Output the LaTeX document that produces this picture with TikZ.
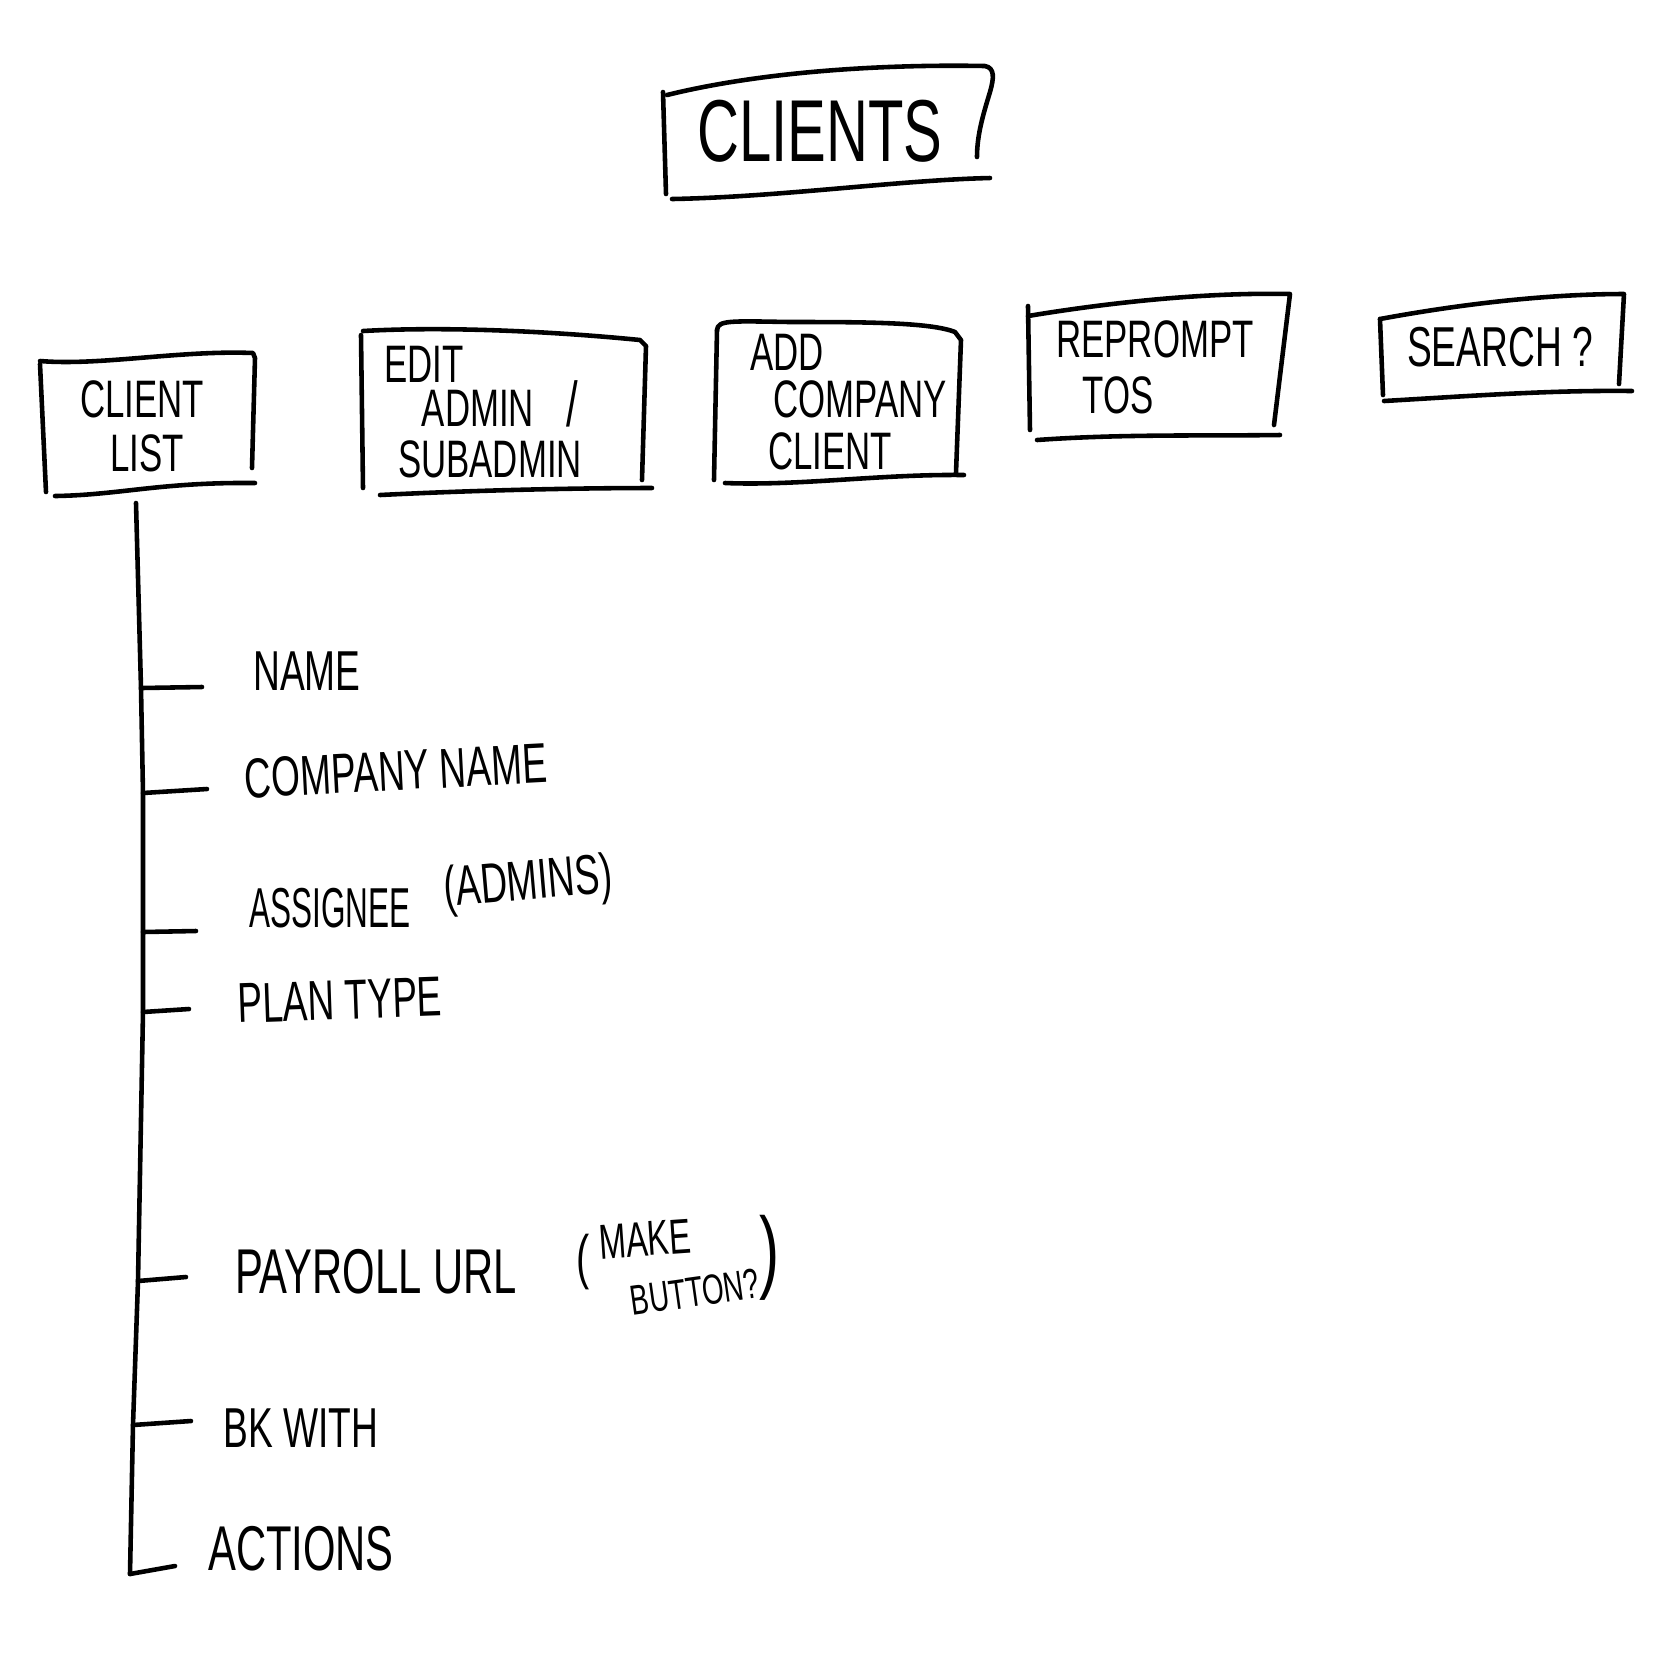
\documentclass[tikz,border=0pt]{standalone}
\usepackage{fontspec}
\setmainfont{Liberation Sans}
\usepackage{graphicx}
\newcommand{\hw}[1]{\scalebox{0.66}[1]{#1}}
\newcommand{\hwn}[1]{\scalebox{0.56}[1]{#1}}
\tikzset{
  pen/.style={line width=1.3pt, line cap=round, line join=round},
  lab/.style={inner sep=0pt, font=\fontsize{16}{18}\selectfont},
  boxlab/.style={inner sep=0pt, font=\fontsize{15}{17}\selectfont},
  biglab/.style={inner sep=0pt, font=\fontsize{25}{28}\selectfont},
  midlab/.style={inner sep=0pt, font=\fontsize{18}{20}\selectfont},
  smalllab/.style={inner sep=0pt, font=\fontsize{12}{14}\selectfont},
}
\begin{document}
\begin{tikzpicture}[x=0.01cm,y=-0.01cm]
\fill[white] (0,0) rectangle (1665,1665);
\useasboundingbox (0,0) rectangle (1665,1665);

% ---------- CLIENTS ----------
\node[biglab] (clients) at (820,131) {\hw{CLIENTS}};
\draw[pen] (667,95) .. controls (760,72) and (880,64) .. (985,66) .. controls (995,68) and (994,78) .. (990,92) .. controls (983,115) and (977,135) .. (977,157);
\draw[pen] (663,92) -- (666,194);
\draw[pen] (672,199) .. controls (780,197) and (900,180) .. (990,178);

% ---------- CLIENT LIST ----------
\node[boxlab] (cl1) at (142,399) {\hw{CLIENT}};
\node[boxlab] (cl2) at (147,453) {\hw{LIST}};
\draw[pen] (40,361) .. controls (100,366) and (180,350) .. (253,353) -- (255,358) -- (252,468);
\draw[pen] (40,364) -- (46,492);
\draw[pen] (55,496) .. controls (120,495) and (160,482) .. (255,483);

% ---------- EDIT ADMIN / SUBADMIN ----------
\node[boxlab] (ea1) at (424,364) {\hw{EDIT}};
\node[boxlab] (ea2) at (478,408) {\hw{ADMIN}};
\node[boxlab, font=\fontsize{18}{20}\selectfont] (ea3) at (572,404) {\hw{/}};
\node[boxlab] (ea4) at (490,459) {\hw{SUBADMIN}};
\draw[pen] (363,331) .. controls (450,326) and (560,332) .. (640,340) -- (646,346) -- (642,480);
\draw[pen] (361,335) -- (363,488);
\draw[pen] (380,495) .. controls (480,490) and (580,488) .. (652,488);

% ---------- ADD COMPANY CLIENT ----------
\node[boxlab] (ac1) at (787,352) {\hw{ADD}};
\node[boxlab] (ac2) at (860,399) {\hw{COMPANY}};
\node[boxlab] (ac3) at (830,451) {\hw{CLIENT}};
\draw[pen] (717,330) .. controls (718,320) and (730,321) .. (790,322) .. controls (860,322) and (930,322) .. (955,332) -- (961,340) -- (956,473);
\draw[pen] (717,330) -- (714,480);
\draw[pen] (725,483) .. controls (800,486) and (880,474) .. (964,475);

% ---------- REPROMPT TOS ----------
\node[boxlab] (rp1) at (1155,339) {\hw{REPROMPT}};
\node[boxlab] (rp2) at (1118,395) {\hw{TOS}};
\draw[pen] (1028,316) .. controls (1100,304) and (1200,292) .. (1290,294) -- (1274,425);
\draw[pen] (1028,306) -- (1030,430);
\draw[pen] (1037,440) .. controls (1120,434) and (1200,436) .. (1280,435);

% ---------- SEARCH ? ----------
\node[lab] (se) at (1500,347) {\hw{SEARCH ?}};
\draw[pen] (1380,319) .. controls (1450,306) and (1540,294) .. (1624,294) -- (1619,384);
\draw[pen] (1380,319) -- (1383,395);
\draw[pen] (1384,401) .. controls (1470,396) and (1550,390) .. (1632,391);

% ---------- spine ----------
\coordinate (s0) at (136,503);
\coordinate (s1) at (141,688);
\coordinate (s2) at (143,793);
\coordinate (s3) at (143,932);
\coordinate (s4) at (143,1012);
\coordinate (s5) at (138,1281);
\coordinate (s6) at (133,1425);
\coordinate (s7) at (130,1574);
\draw[pen] (s0) -- (s1) -- (s2) -- (s3) -- (s4) -- (s5) -- (s6) -- (s7);

% ---------- items ----------
\node[lab] (name) at (307,671) {\hw{NAME}};
\node[lab] (cname) at (396,771) {\rotatebox{3}{\hw{COMPANY NAME}}};
\node[lab] (assig) at (330,908) {\hwn{ASSIGNEE}};
\node[lab] (admins) at (528,885) {\rotatebox{5}{\hw{(ADMINS)}}};
\node[lab] (plan) at (340,1000) {\rotatebox{2}{\hw{PLAN TYPE}}};
\node[midlab] (payroll) at (376,1272) {\hw{PAYROLL URL}};
\node[inner sep=0pt, font=\fontsize{17}{19}\selectfont] (po) at (583,1262) {\hw{(}};
\node[smalllab, font=\fontsize{14}{16}\selectfont] (make) at (645,1239) {\rotatebox{4}{\hw{MAKE}}};
\node[smalllab] (button) at (695,1292) {\rotatebox{8}{\hw{BUTTON?}}};
\node[inner sep=0pt, font=\fontsize{26}{28}\selectfont] (pc) at (770,1258) {\hw{)}};
\node[lab] (bk) at (301,1428) {\hw{BK WITH}};
\node[midlab] (actions) at (301,1549) {\hw{ACTIONS}};

\coordinate (e1) at (202,687);
\coordinate (e2) at (207,789);
\coordinate (e3) at (196,931);
\coordinate (e4) at (189,1009);
\coordinate (e5) at (186,1277);
\coordinate (e6) at (191,1421);
\coordinate (e7) at (175,1566);
\draw[pen] (s1) -- (e1);
\draw[pen] (s2) -- (e2);
\draw[pen] (s3) -- (e3);
\draw[pen] (s4) -- (e4);
\draw[pen] (s5) -- (e5);
\draw[pen] (s6) -- (e6);
\draw[pen] (s7) -- (e7);
\end{tikzpicture}
\end{document}
